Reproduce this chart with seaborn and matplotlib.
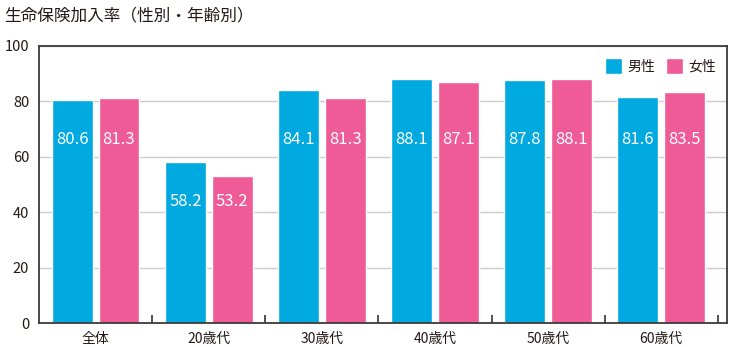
import matplotlib
matplotlib.use("Agg")
import matplotlib.pyplot as plt
import seaborn as sns
import pandas as pd
import numpy as np
from matplotlib.ticker import FixedLocator

categories = ["全体", "20歳代", "30歳代", "40歳代", "50歳代", "60歳代"]
male = [80.6, 58.2, 84.1, 88.1, 87.8, 81.6]
female = [81.3, 53.2, 81.3, 87.1, 88.1, 83.5]
series = ["男性", "女性"]
yticks = [0, 20, 40, 60, 80, 100]
title = "生命保険加入率（性別・年齢別）"

colors = {"男性": "#00a9e0", "女性": "#ef5b97"}

df = pd.DataFrame({
    "cat": categories * 2,
    "sex": [series[0]] * len(categories) + [series[1]] * len(categories),
    "val": male + female,
})

sns.set_theme(style="white")
plt.rcParams["font.family"] = ["Noto Sans CJK JP", "DejaVu Sans"]

fig = plt.figure(figsize=(7.38, 3.47), dpi=100)
ax = fig.add_axes([39 / 738, 1 - 323.3 / 347, (727 - 39) / 738, (323.3 - 45.7) / 347])

ax.yaxis.grid(True, color="#cccccc", linewidth=1)
ax.set_axisbelow(True)

sns.barplot(data=df, x="cat", y="val", hue="sex", order=categories,
            hue_order=series, palette=colors, width=0.828, gap=0.125,
            saturation=1, ax=ax, legend=True)

for bars in ax.containers:
    for rect in bars:
        h = rect.get_height()
        if np.isnan(h):
            continue
        x = rect.get_x() + rect.get_width() / 2
        idx = int(round(x))
        gmax = max(male[idx], female[idx])
        ly = min(66.2, gmax - 14.5)
        ax.text(x, ly, f"{h:.1f}", ha="center", va="center", color="white",
                fontsize=12)

ax.set_ylim(0, 100)
ax.set_xlim(-0.5, 5.58)
ax.set_yticks(yticks)
ax.set_xlabel("")
ax.set_ylabel("")
ax.tick_params(axis="y", length=0, pad=7, labelsize=10.5, labelcolor="#231815")
ax.tick_params(axis="x", which="major", length=0, pad=6, labelsize=10, labelcolor="#231815")
ax.xaxis.set_minor_locator(FixedLocator([0.5, 1.5, 2.5, 3.5, 4.5, 5.5]))
ax.tick_params(axis="x", which="minor", direction="in", length=6, width=1.2, color="#333333", bottom=True)

for s in ax.spines.values():
    s.set_color("#3e3a39")
    s.set_linewidth(1.3)
    s.set_visible(True)

leg = ax.legend(loc="upper right", ncol=2, frameon=False, fontsize=10,
                handlelength=1.25, handleheight=1.35, handletextpad=0.35,
                columnspacing=0.8, borderaxespad=0.0,
                bbox_to_anchor=(0.992, 0.975))
for t in leg.get_texts():
    t.set_color("#231815")

fig.text(0.006, 0.955, title, fontsize=12, ha="left", va="center", color="#231815")

fig.savefig("out.png", dpi=100)
